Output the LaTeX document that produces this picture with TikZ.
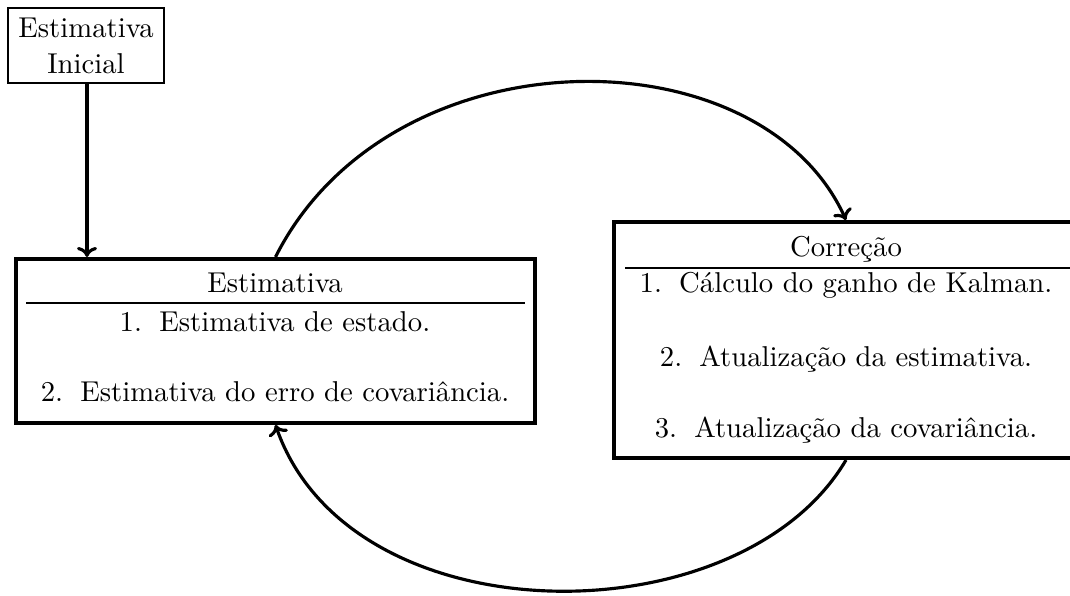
\documentclass[tikz,border=0pt]{standalone}
\usetikzlibrary{arrows.meta}
\newcommand{\itemgap}{\hspace{0.6em}}
\begin{document}
\begin{tikzpicture}[x=0.3484pt,y=-0.3484pt,
  bigbox/.style={draw,line width=1.4pt,rectangle,inner sep=0pt},
  smallbox/.style={draw,line width=0.7pt,rectangle,inner sep=0pt},
  txt/.style={anchor=base,inner sep=0pt,font=\normalsize},
  conn/.style={line width=1.1pt,-{To[length=3.5pt,width=7pt]}}]
\useasboundingbox (0,0) rectangle (1070,596);
% initial box
\node[smallbox,minimum width=156*0.3484pt,minimum height=75*0.3484pt] (ini) at (86,45.5) {};
\node[txt] (ini1) at (86,38) {Estimativa};
\node[txt] (ini2) at (86,74) {Inicial};
% left box
\node[bigbox,minimum width=519*0.3484pt,minimum height=164*0.3484pt] (est) at (275.5,341) {};
\node[txt] (esth) at (275,293) {Estimativa};
\draw[line width=0.4pt] (26,303) -- (525,303);
\node[txt] (est1) at (275,332) {1.\itemgap Estimativa de estado.};
\node[txt] (est2) at (275,402) {2.\itemgap Estimativa do erro de covariância.};
% right box
\node[bigbox,minimum width=464*0.3484pt,minimum height=236*0.3484pt] (cor) at (846,340) {};
\node[txt] (corh) at (846,257) {Correção};
\draw[line width=0.4pt] (625,268) -- (1070,268);
\node[txt] (cor1) at (846,293) {1.\itemgap Cálculo do ganho de Kalman.};
\node[txt] (cor2) at (846,367) {2.\itemgap Atualização da estimativa.};
\node[txt] (cor3) at (846,438) {3.\itemgap Atualização da covariância.};
\coordinate (a1) at (87,258);
% connectors
\draw[conn] (ini.south -| a1) -- (est.north -| a1);
\draw[conn] (est.north) .. controls (390,30) and (760,30) .. (cor.north);
\draw[conn] (cor.south) .. controls (740,640) and (350,640) .. (est.south);
\end{tikzpicture}
\end{document}
